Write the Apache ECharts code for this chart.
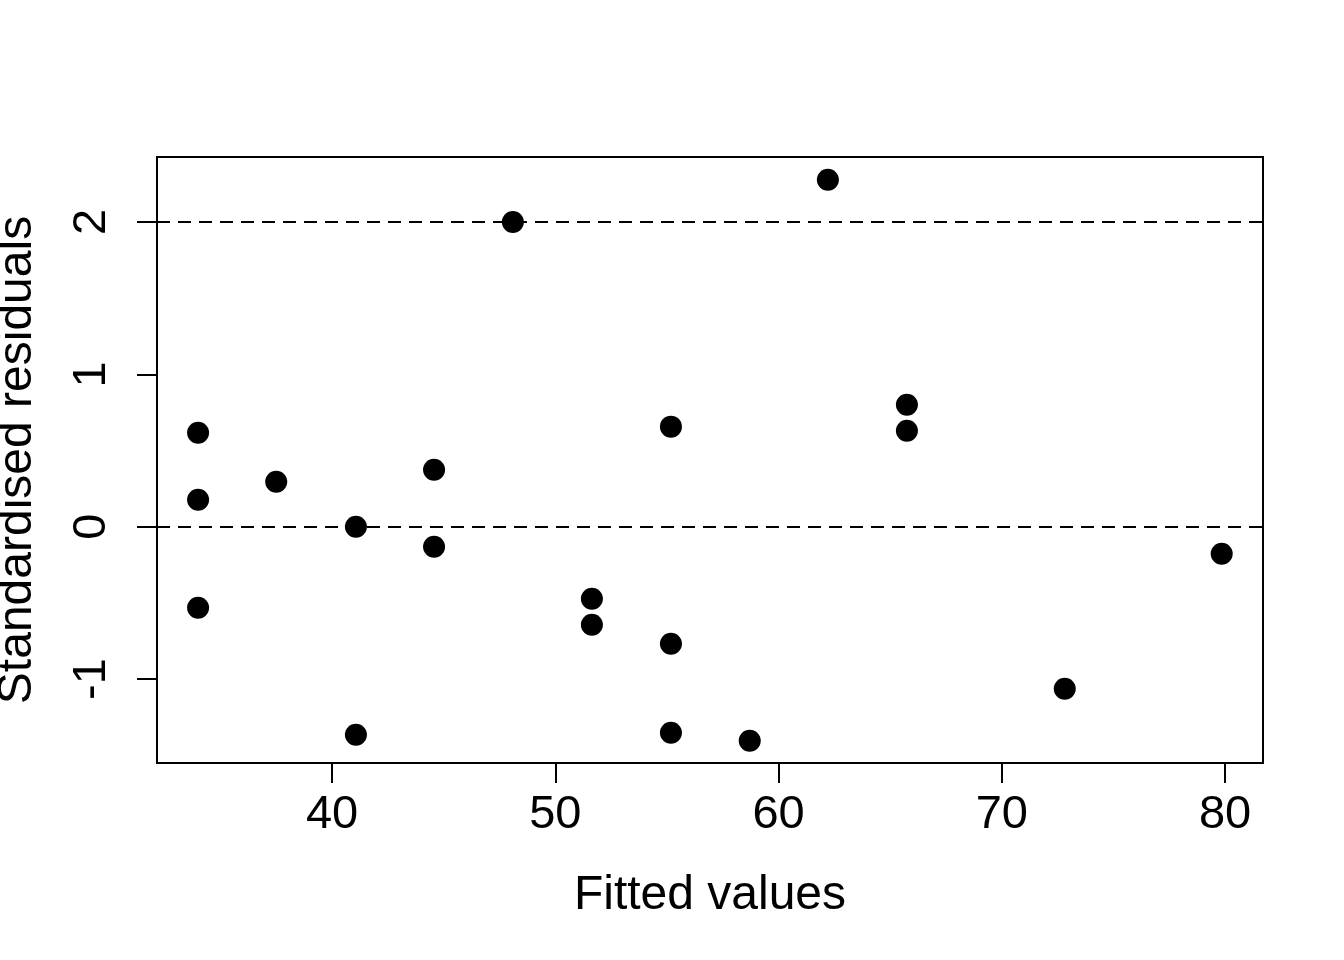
<!DOCTYPE html>
<html>
<head>
<meta charset="utf-8">
<script src="https://cdn.jsdelivr.net/npm/echarts@6/dist/echarts.min.js"></script>
<style>
  html, body { margin: 0; padding: 0; background: #fff; }
  #main { width: 1344px; height: 960px; }
</style>
</head>
<body>
<div id="main"></div>
<script>
// fitted values and standardised residuals
var fitted = [34.0, 34.0, 34.0, 37.5, 41.07, 41.07, 44.57, 44.57, 48.1, 51.64,
              51.64, 55.18, 55.18, 55.18, 58.71, 62.21, 65.75, 65.75, 72.82, 79.85];
var residuals = [0.617, 0.177, -0.532, 0.295, 0.0, -1.366, 0.374, -0.131, 2.0, -0.473,
                 -0.643, 0.657, -0.768, -1.353, -1.405, 2.278, 0.801, 0.630, -1.064, -0.177];

var xTicks = [40, 50, 60, 70, 80];
var yTicks = [-1, 0, 1, 2];
var refLines = [0, 2];

var points = [];
for (var i = 0; i < fitted.length; i++) {
  points.push([fitted[i], residuals[i]]);
}

var font = 'Liberation Sans, Arial, Helvetica, sans-serif';

var myChart = echarts.init(document.getElementById('main'));
myChart.setOption({
  animation: false,
  grid: {
    left: 157, right: 81, top: 157, bottom: 197,
    outerBoundsMode: 'none',
    containLabel: false,
    show: true,
    borderColor: '#000',
    borderWidth: 2,
    backgroundColor: 'transparent'
  },
  xAxis: {
    type: 'value',
    min: 32.16,
    max: 81.70,
    name: 'Fitted values',
    nameLocation: 'middle',
    nameGap: 109,
    nameTextStyle: { color: '#000', fontSize: 48, fontFamily: font },
    axisLine: { show: false, onZero: false },
    splitLine: { show: false },
    axisTick: {
      show: true, length: 20, inside: false,
      customValues: xTicks,
      lineStyle: { color: '#000', width: 2 }
    },
    axisLabel: {
      customValues: xTicks,
      margin: 29,
      color: '#000', fontSize: 47, fontFamily: font
    }
  },
  yAxis: {
    type: 'value',
    min: -1.551,
    max: 2.427,
    name: 'Standardised residuals',
    nameLocation: 'middle',
    nameRotate: 90,
    nameGap: 115,
    nameTextStyle: { color: '#000', fontSize: 48, fontFamily: font },
    axisLine: { show: false, onZero: false },
    splitLine: { show: false },
    axisTick: {
      show: true, length: 20, inside: false,
      customValues: yTicks,
      lineStyle: { color: '#000', width: 2 }
    },
    axisLabel: {
      customValues: yTicks,
      rotate: 90,
      margin: 41,
      color: '#000', fontSize: 47, fontFamily: font
    }
  },
  series: [{
    type: 'scatter',
    data: points,
    symbol: 'circle',
    symbolSize: 22,
    itemStyle: { color: '#000', opacity: 1 },
    markLine: {
      silent: true,
      symbol: 'none',
      label: { show: false },
      lineStyle: { color: '#000', width: 2, type: [13, 8], opacity: 1 },
      data: refLines.map(function (v) { return { yAxis: v }; })
    }
  }]
});
</script>
</body>
</html>
